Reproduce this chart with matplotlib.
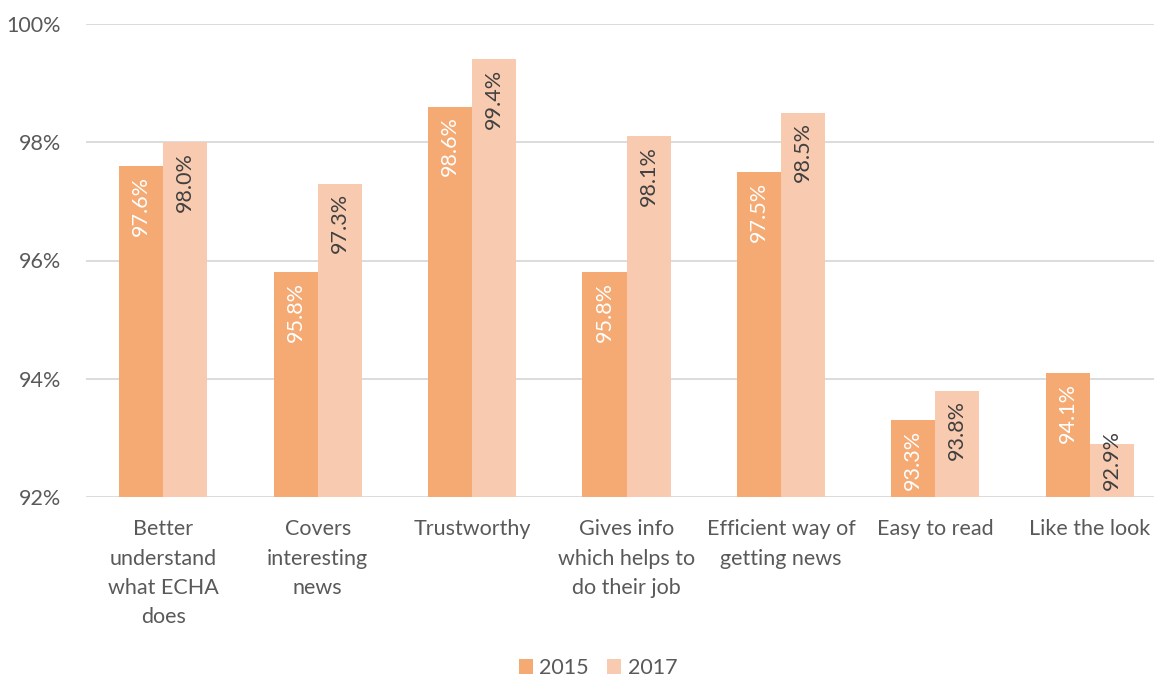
import matplotlib
matplotlib.use("Agg")
import matplotlib.pyplot as plt
import numpy as np

categories = [
    "Better\nunderstand\nwhat ECHA\ndoes",
    "Covers\ninteresting\nnews",
    "Trustworthy",
    "Gives info\nwhich helps to\ndo their job",
    "Efficient way of\ngetting news",
    "Easy to read",
    "Like the look",
]
values_2015 = [97.6, 95.8, 98.6, 95.8, 97.5, 93.3, 94.1]
values_2017 = [98.0, 97.3, 99.4, 98.1, 98.5, 93.8, 92.9]
series_names = ["2015", "2017"]
y_ticks = [92, 94, 96, 98, 100]

color_2015 = "#F5A973"
color_2017 = "#F8CAB0"
text_gray = "#595959"
grid_gray = "#D9D9D9"

plt.rcParams["font.family"] = ["Lato", "DejaVu Sans"]

fig = plt.figure(figsize=(11.54, 6.79), dpi=100)
ax = fig.add_axes([86 / 1154, 1 - 497 / 679, (1167 - 86) / 1154, (497 - 24) / 679])

base = y_ticks[0]
x = np.arange(len(categories))
w = 0.285
bars1 = ax.bar(x - w / 2, [v - base for v in values_2015], w, bottom=base,
               color=color_2015, label=series_names[0], zorder=3)
bars2 = ax.bar(x + w / 2, [v - base for v in values_2017], w, bottom=base,
               color=color_2017, label=series_names[1], zorder=3)

# value labels at the inside end of each bar; short bars get the label
# pushed up so it sits just above the baseline
for xs, vals, col in ((x - w / 2, values_2015, "white"), (x + w / 2, values_2017, "#404040")):
    for xi, v in zip(xs, vals):
        if v - base >= 1.2:
            ax.annotate(f"{v:.1f}%", (xi, v), xytext=(0, -7), textcoords="offset points",
                        rotation=90, ha="center", va="top", fontsize=15.5, color=col, zorder=4)
        else:
            ax.annotate(f"{v:.1f}%", (xi, base), xytext=(0, 5), textcoords="offset points",
                        rotation=90, ha="center", va="bottom", fontsize=15.5, color=col, zorder=4)

ax.set_ylim(base, 100)
ax.set_xlim(-0.5, len(categories) - 0.5)
ax.set_yticks(y_ticks)
ax.set_yticklabels([f"{t}%" for t in y_ticks])
ax.set_xticks(x)
ax.set_xticklabels(categories, linespacing=1.58)
ax.tick_params(axis="both", length=0, colors=text_gray, labelsize=15.5)
ax.tick_params(axis="y", pad=18)
ax.tick_params(axis="x", pad=16)
ax.yaxis.grid(True, color=grid_gray, linewidth=1.3, zorder=0)
for s in ax.spines.values():
    s.set_visible(False)

fig.legend(handles=[bars1, bars2], labels=series_names, loc="center",
           bbox_to_anchor=(598 / 1154, 1 - 668 / 679), ncol=2, frameon=False,
           fontsize=15.5, labelcolor=text_gray, handlelength=0.65, handleheight=0.65,
           columnspacing=0.85, handletextpad=0.3)

fig.savefig("out.png", dpi=100)
